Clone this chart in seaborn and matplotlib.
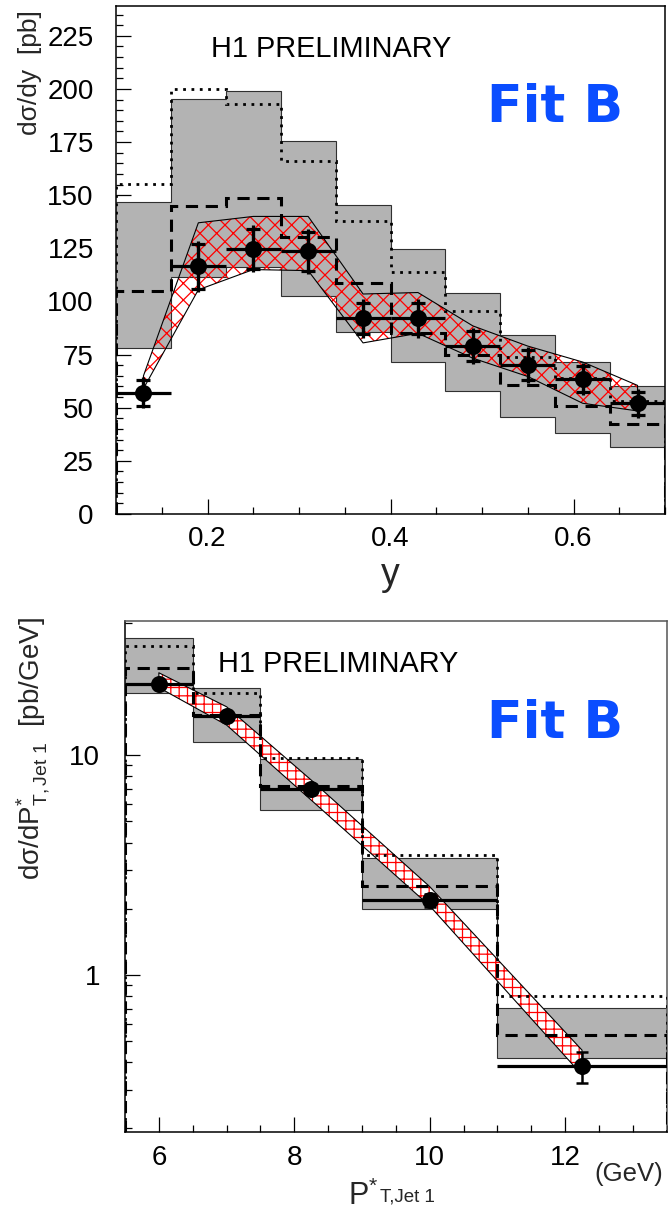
import numpy as np
import pandas as pd
import matplotlib
matplotlib.use("Agg")
import matplotlib.pyplot as plt
import seaborn as sns
from matplotlib.ticker import FixedLocator, FixedFormatter, MultipleLocator, LogLocator, NullFormatter

# ---------------- top panel: d sigma / dy ----------------
y_edges = [0.10, 0.16, 0.22, 0.28, 0.34, 0.40, 0.46, 0.52, 0.58, 0.64, 0.70]
y_data = [57.0, 116.5, 124.8, 123.5, 92.0, 92.0, 79.0, 70.0, 63.5, 52.0]
y_stat = [6.2, 10.5, 9.5, 9.0, 7.5, 7.5, 7.0, 7.0, 6.0, 5.5]
y_total = [7.3, 12.0, 11.0, 10.5, 9.0, 9.0, 8.5, 8.5, 7.5, 7.0]
y_grey_lo = [78.0, 111.5, 116.0, 102.7, 85.5, 71.7, 58.0, 45.8, 38.2, 31.7]
y_grey_hi = [147.0, 195.4, 199.2, 175.3, 145.2, 124.6, 103.9, 84.4, 71.7, 60.3]
y_dotted = [155.4, 200.0, 193.0, 166.3, 138.0, 113.7, 95.4, 74.0, 64.0, 53.0]
y_dashed = [104.8, 144.7, 148.8, 130.5, 108.6, 85.0, 75.0, 60.5, 50.6, 42.4]
y_band_hi = [65.0, 137.0, 140.0, 140.0, 103.5, 104.2, 88.5, 79.0, 71.5, 60.5]
y_band_lo = [59.0, 105.5, 115.0, 114.5, 80.5, 85.0, 73.3, 64.7, 52.1, 48.5]
y_ticks = [0, 25, 50, 75, 100, 125, 150, 175, 200, 225]
y_ticklabels = ["0", "25", "50", "75", "100", "125", "150", "175", "200", "225"]
yx_ticks = [0.2, 0.4, 0.6]
yx_ticklabels = ["0.2", "0.4", "0.6"]

# ---------------- bottom panel: d sigma / dPT ----------------
pt_edges = [5.5, 6.5, 7.5, 9.0, 11.0, 13.5]
pt_data = [21.0, 15.1, 7.0, 2.19, 0.385]
pt_err = [0.8, 0.6, 0.35, 0.15, 0.062]
pt_grey_lo = [19.1, 11.5, 5.62, 2.0, 0.419]
pt_grey_hi = [34.2, 20.1, 9.6, 3.39, 0.708]
pt_dotted = [31.4, 19.1, 9.75, 3.51, 0.80]
pt_dashed = [24.8, 15.2, 7.23, 2.54, 0.535]
pt_band_hi = [23.7, 16.6, 7.7, 2.52, 0.454]
pt_band_lo = [20.3, 13.7, 6.24, 2.06, 0.35]
pt_yticks = [1, 10]
pt_yticklabels = ["1", "10"]
pt_xticks = [6, 8, 10, 12]
pt_xticklabels = ["6", "8", "10", "12"]

sns.set_theme(style="white")
plt.rcParams['font.family'] = ['Liberation Sans', 'DejaVu Sans']
plt.rcParams['mathtext.fontset'] = 'custom'
plt.rcParams['mathtext.rm'] = 'Liberation Sans'
plt.rcParams['mathtext.it'] = 'Liberation Sans:italic'
plt.rcParams['mathtext.bf'] = 'Liberation Sans:bold'
plt.rcParams['mathtext.sf'] = 'Liberation Sans'
plt.rcParams['hatch.linewidth'] = 0.9

W, H = 668, 1211
fig = plt.figure(figsize=(W / 100, H / 100), dpi=100)
fig.patch.set_facecolor('white')

ax1 = fig.add_axes([116 / W, 1 - 514 / H, (665 - 116) / W, (514 - 6) / H])
ax2 = fig.add_axes([125 / W, 1 - 1132.3 / H, (666.7 - 125) / W, (1132.3 - 620.7) / H])

GREY = '#b3b3b3'
DOT = (0, (1, 2))
DASH = (0, (4, 2.5))


def draw_panel(ax, edges, data, grey_lo, grey_hi, dotted, dashed, band_lo, band_hi,
               base, hatch, band_face, stat=None, total=None, err=None):
    edges = np.asarray(edges)
    centers = 0.5 * (edges[:-1] + edges[1:])
    half = 0.5 * np.diff(edges)
    # grey uncertainty band
    ax.stairs(grey_hi, edges, baseline=grey_lo, fill=True, color=GREY, lw=0, zorder=1)
    ax.stairs(grey_hi, edges, baseline=None, color='#303030', lw=0.8, zorder=2)
    ax.stairs(grey_lo, edges, baseline=None, color='#303030', lw=0.8, zorder=2)
    # red hatched prediction band
    if band_face != 'none':
        ax.fill_between(centers, band_lo, band_hi, facecolor=band_face, lw=0, zorder=3)
    ax.fill_between(centers, band_lo, band_hi, facecolor='none', edgecolor='red',
                    hatch=hatch, lw=0, zorder=3.1)
    ax.fill_between(centers, band_lo, band_hi, facecolor='none', edgecolor='black',
                    lw=0.8, zorder=3.2)
    # step histograms
    ax.stairs(dotted, edges, baseline=base, color='black', lw=2.0, ls=DOT, zorder=4)
    ax.stairs(dashed, edges, baseline=base, color='black', lw=2.2, ls=DASH, zorder=4)
    # data
    ax.errorbar(centers, data, xerr=half, fmt='none', ecolor='black', elinewidth=2.3,
                capsize=0, zorder=5)
    if total is not None:
        ax.errorbar(centers, data, yerr=total, fmt='none', ecolor='black',
                    elinewidth=2.3, capsize=0, zorder=5)
        ax.errorbar(centers, data, yerr=stat, fmt='none', ecolor='black',
                    elinewidth=2.3, capsize=5, capthick=2.3, zorder=5)
    else:
        ax.errorbar(centers, data, yerr=err, fmt='none', ecolor='black',
                    elinewidth=1.8, capsize=4, capthick=1.8, zorder=5)
    sns.scatterplot(x=centers, y=data, ax=ax, color='black', s=150, linewidth=0,
                    zorder=6, legend=False)


draw_panel(ax1, y_edges, y_data, y_grey_lo, y_grey_hi, y_dotted, y_dashed,
           y_band_lo, y_band_hi, base=0, hatch='xx', band_face='none',
           stat=y_stat, total=y_total)
draw_panel(ax2, pt_edges, pt_data, pt_grey_lo, pt_grey_hi, pt_dotted, pt_dashed,
           pt_band_lo, pt_band_hi, base=1e-3, hatch='++', band_face='white',
           err=pt_err)

TICKFS = 20
for ax in (ax1, ax2):
    ax.set_facecolor('white')
    for s in ax.spines.values():
        s.set_visible(True)
        s.set_linewidth(1.1)
        s.set_color('black')
    ax.set_xlabel("")
    ax.set_ylabel("")

ax2.spines['top'].set_color('#555555')
ax2.spines['right'].set_color('#555555')

ax1.set_xlim(0.1, 0.7)
ax1.set_ylim(0, 239)
ax1.yaxis.set_major_locator(FixedLocator(y_ticks))
ax1.yaxis.set_major_formatter(FixedFormatter(y_ticklabels))
ax1.yaxis.set_minor_locator(MultipleLocator(5))
ax1.xaxis.set_major_locator(FixedLocator(yx_ticks))
ax1.xaxis.set_major_formatter(FixedFormatter(yx_ticklabels))
ax1.xaxis.set_minor_locator(MultipleLocator(0.05))

ax2.set_yscale('log')
ax2.set_xlim(5.5, 13.5)
ax2.set_ylim(0.192, 40.9)
ax2.yaxis.set_major_locator(FixedLocator(pt_yticks))
ax2.yaxis.set_major_formatter(FixedFormatter(pt_yticklabels))
ax2.yaxis.set_minor_locator(LogLocator(base=10, subs=np.arange(2, 10)))
ax2.yaxis.set_minor_formatter(NullFormatter())
ax2.xaxis.set_major_locator(FixedLocator(pt_xticks))
ax2.xaxis.set_major_formatter(FixedFormatter(pt_xticklabels))
ax2.xaxis.set_minor_locator(MultipleLocator(0.5))

for ax, ypad in ((ax1, 16), (ax2, 18)):
    ax.tick_params(which='both', direction='in', top=False, right=False,
                   left=True, bottom=True, color='black', labelcolor='black')
    ax.tick_params(which='major', length=11, width=0.9, labelsize=TICKFS)
    ax.tick_params(which='minor', length=5.3, width=0.9)
    ax.tick_params(axis='y', which='major', pad=ypad)
    ax.tick_params(axis='x', which='major', pad=9)

ax1.set_ylabel("dσ/dy  [pb]", fontsize=19, loc='top')
ax1.yaxis.set_label_coords(-0.135, 0.992)
ax2.set_ylabel(r"dσ/dP$^{*}_{\mathrm{T,Jet\ 1}}$  [pb/GeV]", fontsize=20, loc='top')
ax2.yaxis.set_label_coords(-0.135, 1.007)

fig.text(390 / W, 1 - 585 / H, "y", fontsize=27, ha='center', va='baseline')
fig.text(348 / W, 1 - 1205 / H, r"P$^{*}$", fontsize=22, ha='left', va='baseline')
fig.text(380 / W, 1 - 1202 / H, "T,Jet 1", fontsize=13.5, ha='left', va='baseline')
fig.text(663 / W, 1 - 1181 / H, "(GeV)", fontsize=18.5, ha='right', va='baseline')

for ax, x_h1, x_fit, y_fit in ((ax1, 0.1725, 0.675, 0.772), (ax2, 0.1722, 0.6677, 0.770)):
    ax.text(x_h1, 0.90, "H1 PRELIMINARY", transform=ax.transAxes, fontsize=20.8,
            ha='left', va='baseline', color='black', zorder=10)
    ax.text(x_fit, y_fit, "Fit B", transform=ax.transAxes, fontsize=37.5,
            family=['DejaVu Sans'], fontweight='bold', color='#0a4dff',
            ha='left', va='baseline', zorder=10)

fig.savefig("out.png", dpi=100, facecolor='white')
